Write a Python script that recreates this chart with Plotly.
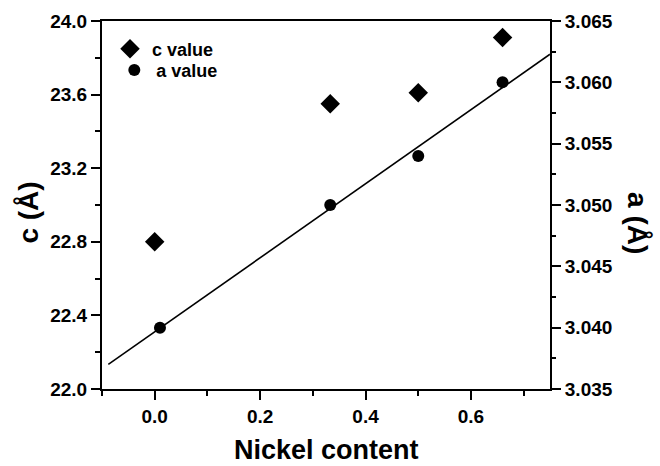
import numpy as np
import plotly.graph_objects as go

# Lattice parameters versus nickel content
nickel_c = [0.0, 0.333, 0.5, 0.66]
c_value = [22.80, 23.55, 23.61, 23.91]

nickel_a = [0.01, 0.333, 0.5, 0.66]
a_value = [3.040, 3.050, 3.054, 3.060]

# extent of the linear fit through the a values
fit_x = np.array([-0.088, 0.75])

slope, intercept = np.polyfit(nickel_a, a_value, 1)
fit_y = slope * fit_x + intercept

FONT = "Liberation Sans, Arial, sans-serif"

fig = go.Figure()

fig.add_trace(go.Scatter(
    x=nickel_c, y=c_value, mode="markers", name="c value",
    marker=dict(symbol="diamond", size=15, color="black"),
    yaxis="y", legend="legend",
))
fig.add_trace(go.Scatter(
    x=nickel_a, y=a_value, mode="markers", name="a value",
    marker=dict(symbol="circle", size=12, color="black"),
    yaxis="y2", legend="legend2",
))
fig.add_trace(go.Scatter(
    x=fit_x, y=fit_y, mode="lines", showlegend=False,
    line=dict(color="black", width=1.6),
    yaxis="y2",
))

axis_common = dict(
    showgrid=False, zeroline=False,
    showline=True, linecolor="black", linewidth=2,
    ticks="outside", ticklen=9, tickwidth=2, tickcolor="black",
    tickfont=dict(family=FONT, size=19, color="black", weight="bold"),
)

legend_common = dict(
    xanchor="left", yanchor="top",
    bgcolor="rgba(0,0,0,0)", borderwidth=0, itemwidth=34,
    font=dict(family=FONT, size=18, color="black", weight="bold"),
    tracegroupgap=0, itemsizing="trace",
)

fig.update_layout(
    width=660, height=466,
    margin=dict(l=102, r=110, t=21, b=77),
    paper_bgcolor="white", plot_bgcolor="white",
    showlegend=True,
    legend=dict(x=0.0134, y=0.974, **legend_common),
    legend2=dict(x=0.023, y=0.9165, **legend_common),
    xaxis=dict(
        range=[-0.1, 0.75], tick0=0, dtick=0.2, tickformat=".1f",
        mirror=True,
        minor=dict(dtick=0.1, tick0=0, ticks="outside", ticklen=5,
                   tickwidth=2, tickcolor="black"),
        **axis_common,
    ),
    yaxis=dict(
        range=[22.0, 24.0], tick0=22, dtick=0.4, tickformat=".1f",
        minor=dict(dtick=0.2, tick0=22, ticks="outside", ticklen=5,
                   tickwidth=2, tickcolor="black"),
        **axis_common,
    ),
    yaxis2=dict(
        range=[3.035, 3.065], tick0=3.035, dtick=0.005, tickformat=".3f",
        overlaying="y", side="right",
        minor=dict(dtick=0.0025, tick0=3.035, ticks="outside", ticklen=4,
                   tickwidth=2, tickcolor="black"),
        **axis_common,
    ),
)

title_font = dict(family=FONT, size=28, color="black", weight="bold")
fig.add_annotation(
    text="Nickel content", xref="paper", yref="paper",
    x=0.5, y=-0.166, xanchor="center", yanchor="middle",
    showarrow=False, font=dict(title_font, size=27),
)
fig.add_annotation(
    text="c (Å)", xref="paper", yref="paper",
    x=-0.164, y=0.478, xanchor="center", yanchor="middle",
    textangle=-90, showarrow=False, font=title_font,
)
fig.add_annotation(
    text="a (Å)", xref="paper", yref="paper",
    x=1.195, y=0.45, xanchor="center", yanchor="middle",
    textangle=90, showarrow=False, font=title_font,
)

fig.write_html("out.html")
